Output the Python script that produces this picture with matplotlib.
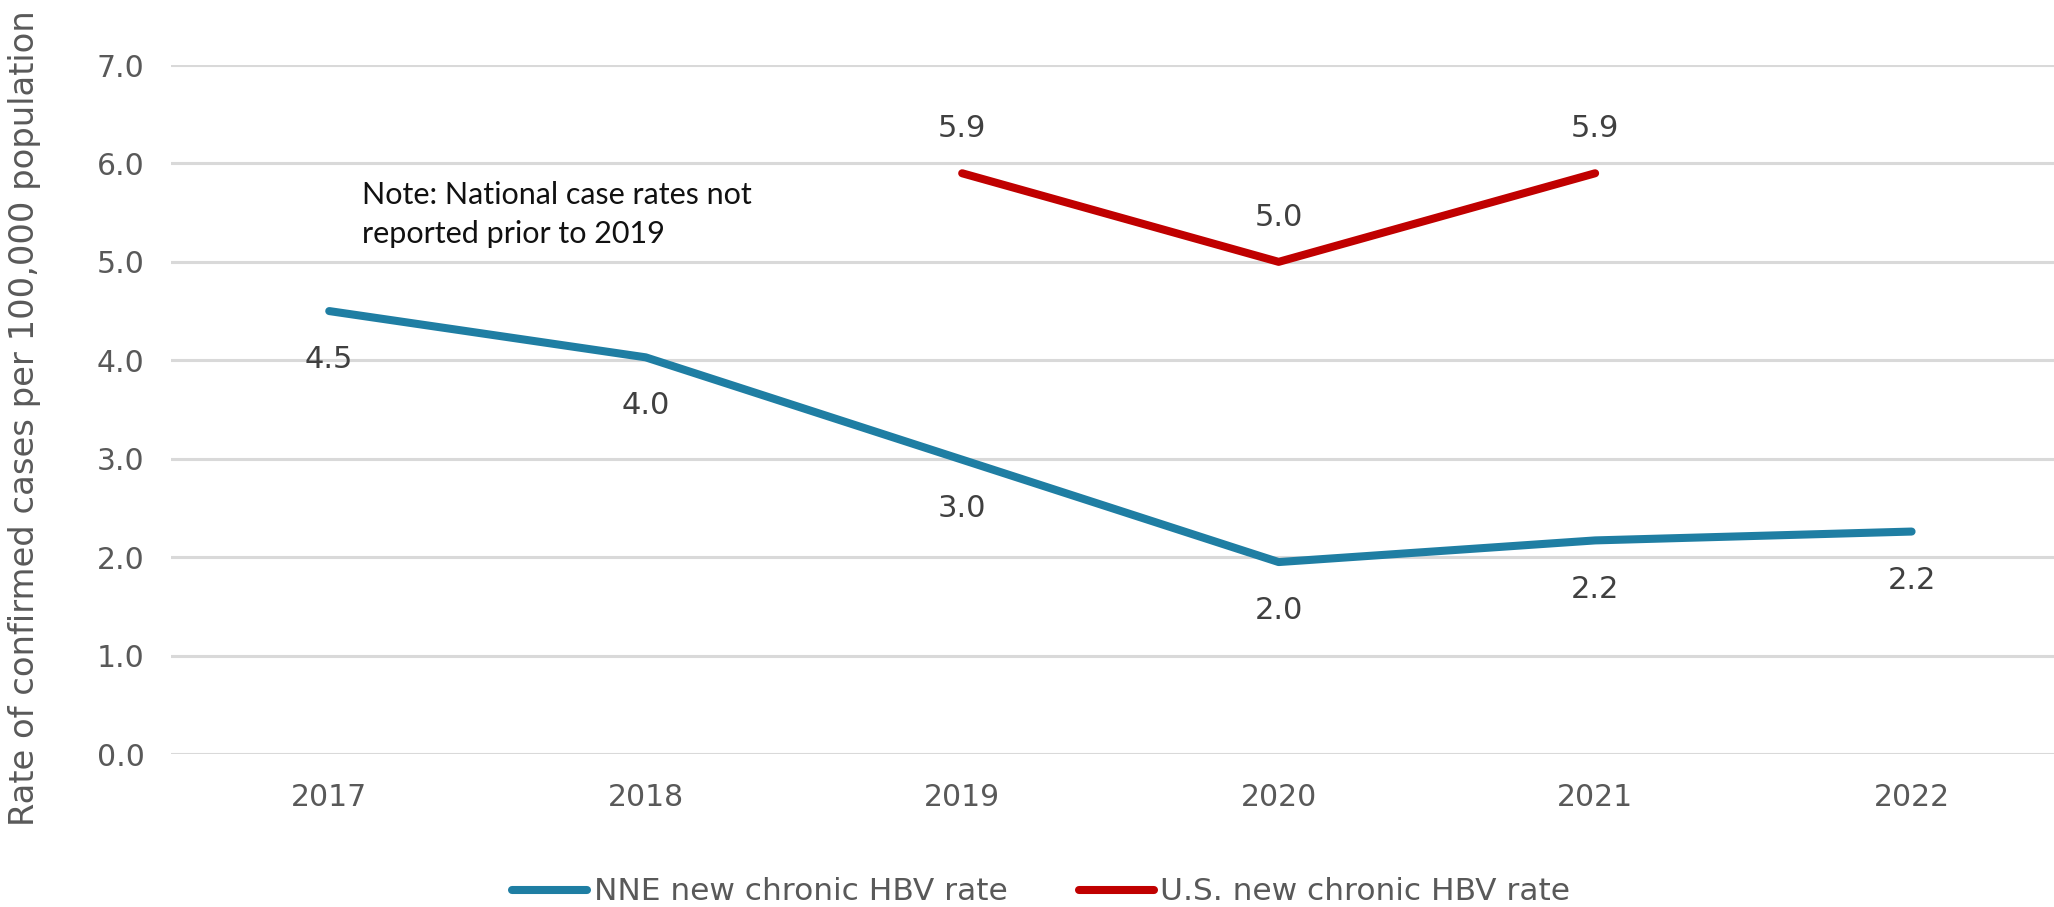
import matplotlib.pyplot as plt

years = ['2017', '2018', '2019', '2020', '2021', '2022']
nne_rate = [4.5, 4.03, 2.99, 1.95, 2.17, 2.26]
nne_labels = ['4.5', '4.0', '3.0', '2.0', '2.2', '2.2']
us_years = ['2019', '2020', '2021']
us_rate = [5.9, 5.0, 5.9]
us_labels = ['5.9', '5.0', '5.9']
y_ticks = [0, 1, 2, 3, 4, 5, 6, 7]

blue = '#1F7EA3'
red = '#C00000'
grey = '#595959'

fig = plt.figure(figsize=(20.54, 9.07), dpi=100)
ax = fig.add_axes([171 / 2054, 1 - 754 / 907, 1 - 171 / 2054, (754 - 65) / 907])

x_nne = [years.index(y) for y in years]
x_us = [years.index(y) for y in us_years]

ax.plot(x_nne, nne_rate, color=blue, lw=5.8, solid_capstyle='round',
        solid_joinstyle='round', label='NNE new chronic HBV rate', zorder=3)
ax.plot(x_us, us_rate, color=red, lw=5.8, solid_capstyle='round',
        solid_joinstyle='round', label='U.S. new chronic HBV rate', zorder=3)

# data labels: NNE below the line, U.S. above
for x, v, s in zip(x_nne, nne_rate, nne_labels):
    ax.annotate(s, (x, v), xytext=(0, -35), textcoords='offset points',
                ha='center', va='center', fontsize=22, color='#404040')
for x, v, s in zip(x_us, us_rate, us_labels):
    ax.annotate(s, (x, v), xytext=(0, 32), textcoords='offset points',
                ha='center', va='center', fontsize=22, color='#404040')

ax.text(0.105, 5.48, 'Note: National case rates not\nreported prior to 2019',
        family=['Lato', 'DejaVu Sans'], fontsize=22, color='#111111',
        ha='left', va='center', linespacing=1.45)

ax.set_xlim(-0.5, 5.45)
ax.set_ylim(0, 7)
ax.set_xticks(range(len(years)))
ax.set_xticklabels(years)
ax.set_yticks(y_ticks)
ax.set_yticklabels([f'{t:.1f}' for t in y_ticks])
ax.tick_params(axis='both', length=0, labelsize=21.5, colors=grey)
ax.tick_params(axis='y', pad=19)
ax.tick_params(axis='x', pad=21)
for sp in ax.spines.values():
    sp.set_visible(False)
ax.grid(axis='y', color='#D9D9D9', lw=2.2, zorder=0)
ax.set_axisbelow(True)

fig.text(0.012, 1 - 418 / 907, 'Rate of confirmed cases per 100,000 population',
         rotation=90, ha='center', va='center', fontsize=24.3, color=grey)

fig.legend(loc='center', bbox_to_anchor=(0.507, 1 - 892 / 907), ncol=2,
           frameon=False, fontsize=22.5, labelcolor=grey, handlelength=2.4,
           handletextpad=0.2, columnspacing=2.3)

fig.savefig('out.png', dpi=100)
